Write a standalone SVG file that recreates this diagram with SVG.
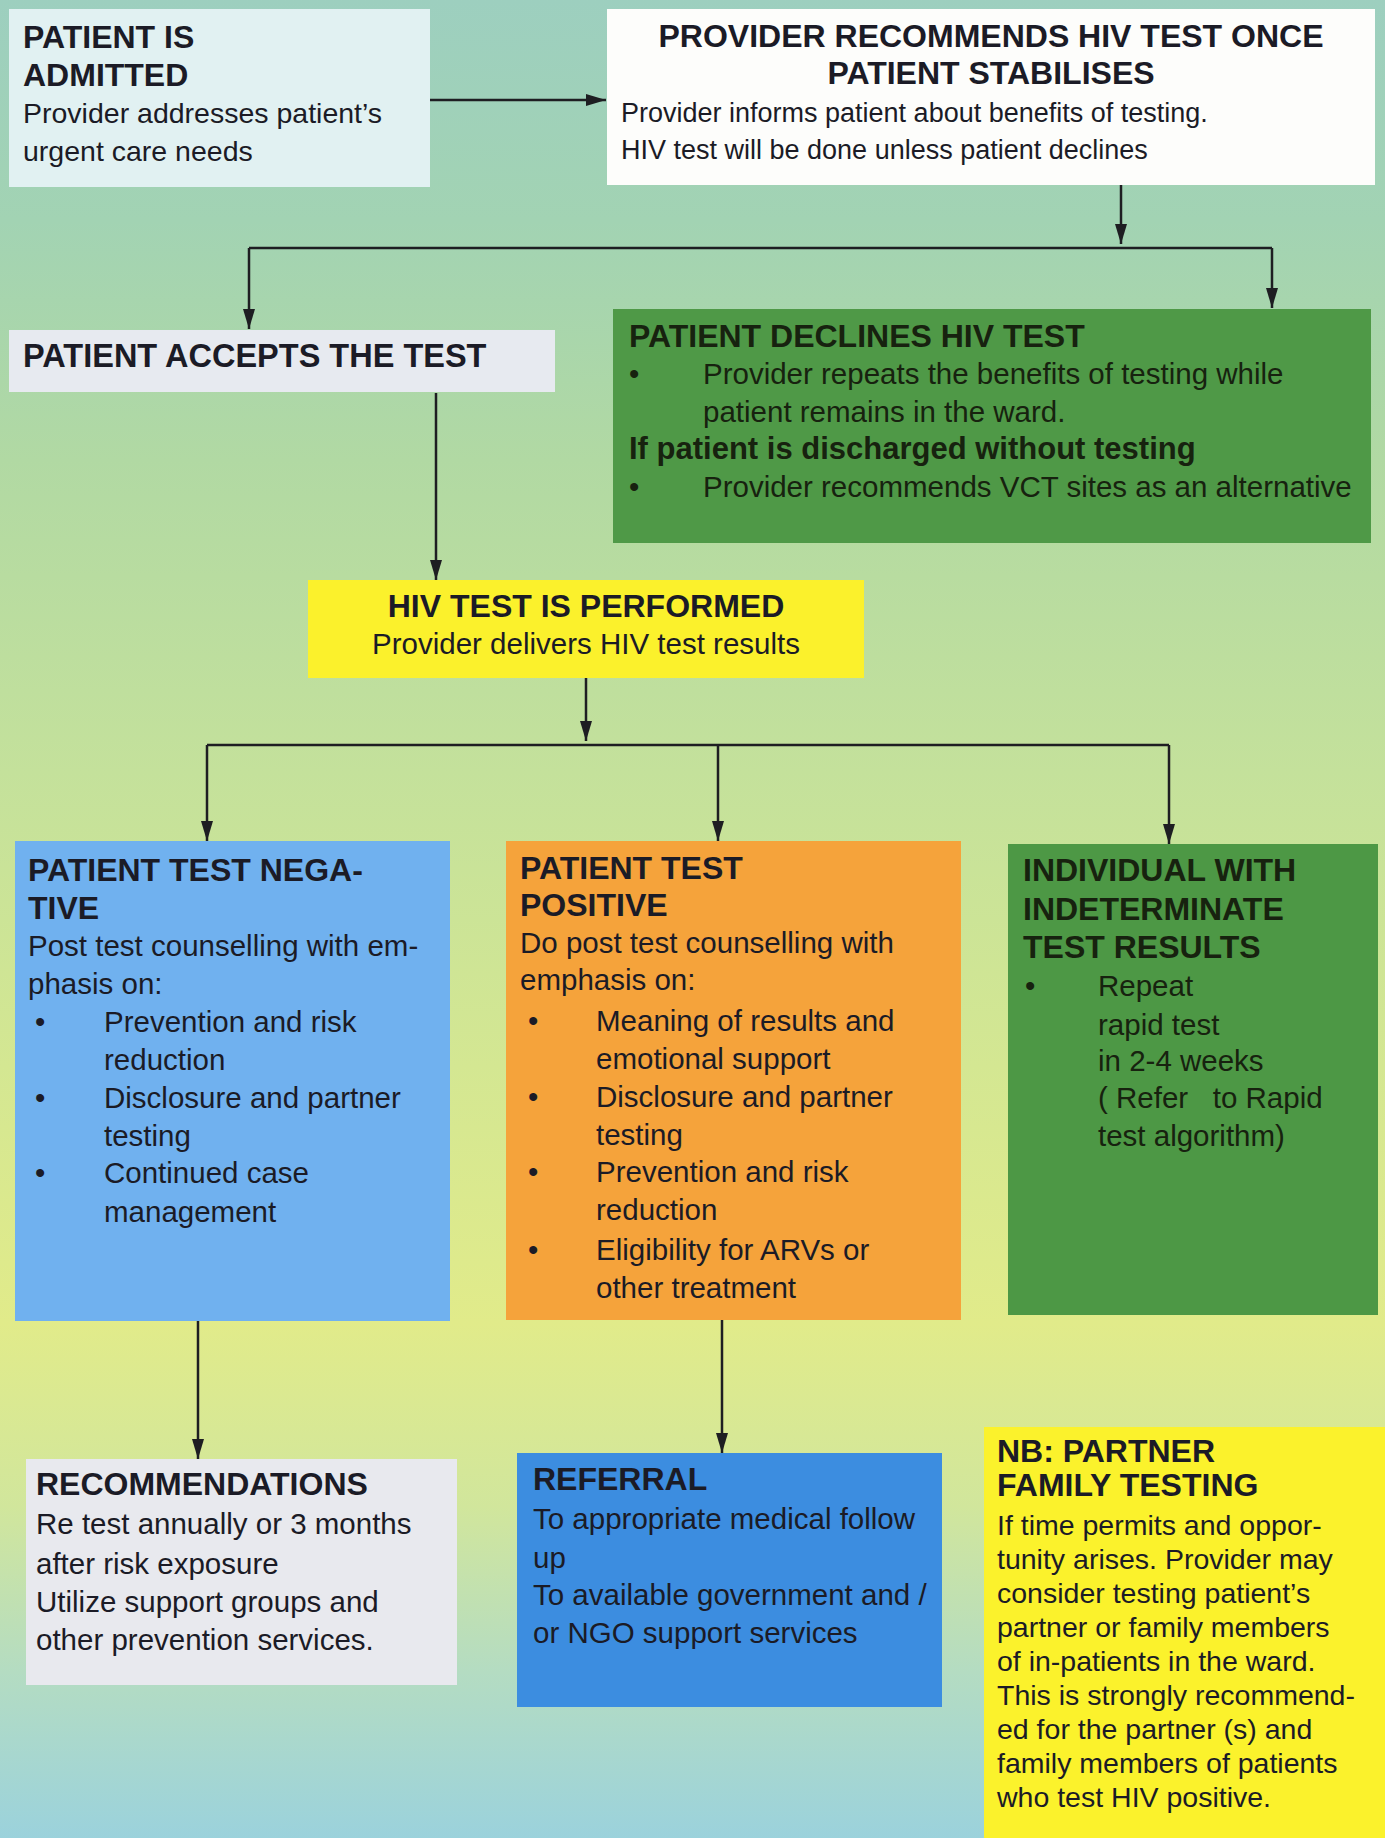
<svg xmlns="http://www.w3.org/2000/svg" width="1385" height="1838" viewBox="0 0 1385 1838">
<defs>
<linearGradient id="bg" x1="0" y1="0" x2="0" y2="1">
<stop offset="0" stop-color="#9dcfbf"/>
<stop offset="0.12" stop-color="#a2d3b3"/>
<stop offset="0.25" stop-color="#b1d9a3"/>
<stop offset="0.42" stop-color="#c4e19b"/>
<stop offset="0.58" stop-color="#d4e792"/>
<stop offset="0.72" stop-color="#e1eb8a"/>
<stop offset="0.82" stop-color="#d1e69c"/>
<stop offset="0.91" stop-color="#b4dcc2"/>
<stop offset="1" stop-color="#9bd2dc"/>
</linearGradient>
<marker id="ah" viewBox="0 0 20 12" refX="20" refY="6" markerWidth="20" markerHeight="12" markerUnits="userSpaceOnUse" orient="auto">
<path d="M0,0 L20,6 L0,12 z" fill="#1e1e22"/>
</marker>
<style>
text { font-family: 'Liberation Sans', Arial, sans-serif; fill: #1b1b26; }
.h { font-weight: bold; font-size: 32px; }
.hb { font-weight: bold; font-size: 31px; }
.b { font-size: 29.5px; }
.bs { font-size: 27px; }
.bk { font-size: 28.5px; }
.dk text { fill: #17220f; }
.ln { fill: none; stroke: #1e1e22; stroke-width: 2.5; }
.arr { marker-end: url(#ah); }
</style>
</defs>
<rect x="0" y="0" width="1385" height="1838" fill="url(#bg)"/>

<g id="connectors">
<line class="ln arr" x1="430" y1="100" x2="606" y2="100"/>
<line class="ln arr" x1="1121" y1="185" x2="1121" y2="244"/>
<line class="ln" x1="249" y1="248" x2="1272" y2="248"/>
<line class="ln arr" x1="249" y1="248" x2="249" y2="329"/>
<line class="ln arr" x1="1272" y1="248" x2="1272" y2="308"/>
<line class="ln arr" x1="436" y1="393" x2="436" y2="580"/>
<line class="ln arr" x1="586" y1="678" x2="586" y2="741"/>
<line class="ln" x1="207" y1="745" x2="1169" y2="745"/>
<line class="ln arr" x1="207" y1="745" x2="207" y2="841"/>
<line class="ln arr" x1="718" y1="745" x2="718" y2="841"/>
<line class="ln arr" x1="1169" y1="745" x2="1169" y2="844"/>
<line class="ln arr" x1="198" y1="1321" x2="198" y2="1459"/>
<line class="ln arr" x1="722" y1="1320" x2="722" y2="1453"/>
</g>

<g id="patient-admitted">
<rect x="9" y="9" width="421" height="178" fill="#e1f1f2"/>
<text class="h" x="23" y="48">PATIENT IS</text>
<text class="h" x="23" y="86">ADMITTED</text>
<text class="bk" x="23" y="123">Provider addresses patient’s</text>
<text class="bk" x="23" y="161">urgent care needs</text>
</g>

<g id="provider-recommends">
<rect x="607" y="9" width="768" height="176" fill="#fdfdfb"/>
<text class="h" x="991" y="47" text-anchor="middle">PROVIDER RECOMMENDS HIV TEST ONCE</text>
<text class="h" x="991" y="84" text-anchor="middle">PATIENT STABILISES</text>
<text class="bs" x="621" y="122">Provider informs patient about benefits of testing.</text>
<text class="bs" x="621" y="159">HIV test will be done unless patient declines</text>
</g>

<g id="patient-accepts">
<rect x="9" y="330" width="546" height="62" fill="#e7eaf0"/>
<text class="h" x="23" y="367" style="font-size:32.5px">PATIENT ACCEPTS THE TEST</text>
</g>

<g id="patient-declines" class="dk">
<rect x="613" y="309" width="758" height="234" fill="#4f9947"/>
<text class="h" x="629" y="347">PATIENT DECLINES HIV TEST</text>
<text class="b" x="629" y="384">•</text>
<text class="b" x="703" y="384">Provider repeats the benefits of testing while</text>
<text class="b" x="703" y="422">patient remains in the ward.</text>
<text class="hb" x="629" y="459">If patient is discharged without testing</text>
<text class="b" x="629" y="497">•</text>
<text class="b" x="703" y="497">Provider recommends VCT sites as an alternative</text>
</g>

<g id="test-performed">
<rect x="308" y="580" width="556" height="98" fill="#fbf12c"/>
<text class="h" x="586" y="617" text-anchor="middle">HIV TEST IS PERFORMED</text>
<text class="b" x="586" y="654" text-anchor="middle">Provider delivers HIV test results</text>
</g>

<g id="test-negative">
<rect x="15" y="841" width="435" height="480" fill="#70b1ef"/>
<text class="h" x="28" y="881">PATIENT TEST NEGA-</text>
<text class="h" x="28" y="919">TIVE</text>
<text class="b" x="28" y="956">Post test counselling with em-</text>
<text class="b" x="28" y="994">phasis on:</text>
<text class="b" x="35" y="1032">•</text>
<text class="b" x="104" y="1032">Prevention and risk</text>
<text class="b" x="104" y="1070">reduction</text>
<text class="b" x="35" y="1108">•</text>
<text class="b" x="104" y="1108">Disclosure and partner</text>
<text class="b" x="104" y="1146">testing</text>
<text class="b" x="35" y="1183">•</text>
<text class="b" x="104" y="1183">Continued case</text>
<text class="b" x="104" y="1222">management</text>
</g>

<g id="test-positive">
<rect x="506" y="841" width="455" height="479" fill="#f5a33b"/>
<text class="h" x="520" y="879">PATIENT TEST</text>
<text class="h" x="520" y="916">POSITIVE</text>
<text class="b" x="520" y="953">Do post test counselling with</text>
<text class="b" x="520" y="990">emphasis on:</text>
<text class="b" x="528" y="1031">•</text>
<text class="b" x="596" y="1031">Meaning of results and</text>
<text class="b" x="596" y="1069">emotional support</text>
<text class="b" x="528" y="1107">•</text>
<text class="b" x="596" y="1107">Disclosure and partner</text>
<text class="b" x="596" y="1145">testing</text>
<text class="b" x="528" y="1182">•</text>
<text class="b" x="596" y="1182">Prevention and risk</text>
<text class="b" x="596" y="1220">reduction</text>
<text class="b" x="528" y="1260">•</text>
<text class="b" x="596" y="1260">Eligibility for ARVs or</text>
<text class="b" x="596" y="1298">other treatment</text>
</g>

<g id="indeterminate" class="dk">
<rect x="1008" y="844" width="370" height="471" fill="#4d9845"/>
<text class="h" x="1023" y="881">INDIVIDUAL WITH</text>
<text class="h" x="1023" y="920">INDETERMINATE</text>
<text class="h" x="1023" y="958">TEST RESULTS</text>
<text class="b" x="1025" y="996">•</text>
<text class="b" x="1098" y="996">Repeat</text>
<text class="b" x="1098" y="1035">rapid test</text>
<text class="b" x="1098" y="1071">in 2-4 weeks</text>
<text class="b" x="1098" y="1108" xml:space="preserve">( Refer   to Rapid</text>
<text class="b" x="1098" y="1146">test algorithm)</text>
</g>

<g id="recommendations">
<rect x="26" y="1459" width="431" height="226" fill="#e8e9ee"/>
<text class="h" x="36" y="1495">RECOMMENDATIONS</text>
<text class="b" x="36" y="1534">Re test annually or 3 months</text>
<text class="b" x="36" y="1574">after risk exposure</text>
<text class="b" x="36" y="1612">Utilize support groups and</text>
<text class="b" x="36" y="1650">other prevention services.</text>
</g>

<g id="referral">
<rect x="517" y="1453" width="425" height="254" fill="#3c8de0"/>
<text class="h" x="533" y="1490">REFERRAL</text>
<text class="b" x="533" y="1529">To appropriate medical follow</text>
<text class="b" x="533" y="1568">up</text>
<text class="b" x="533" y="1605">To available government and /</text>
<text class="b" x="533" y="1643">or NGO support services</text>
</g>

<g id="nb-partner-family">
<rect x="984" y="1427" width="401" height="411" fill="#fbf22c"/>
<text class="h" x="997" y="1462">NB: PARTNER</text>
<text class="h" x="997" y="1496">FAMILY TESTING</text>
<text class="bk" x="997" y="1535">If time permits and oppor-</text>
<text class="bk" x="997" y="1569">tunity arises. Provider may</text>
<text class="bk" x="997" y="1603">consider testing patient’s</text>
<text class="bk" x="997" y="1637">partner or family members</text>
<text class="bk" x="997" y="1671">of in-patients in the ward.</text>
<text class="bk" x="997" y="1705">This is strongly recommend-</text>
<text class="bk" x="997" y="1739">ed for the partner (s) and</text>
<text class="bk" x="997" y="1773">family members of patients</text>
<text class="bk" x="997" y="1807">who test HIV positive.</text>
</g>
</svg>
